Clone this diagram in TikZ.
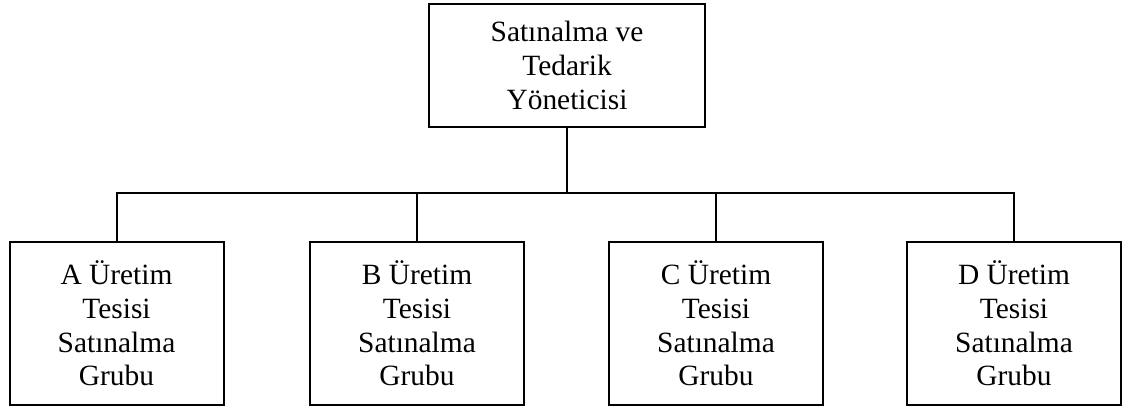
\documentclass[tikz,border=0pt]{standalone}
\usepackage{fontspec}
\setmainfont{Liberation Serif}
\begin{document}
\begin{tikzpicture}[x=0.5pt,y=0.5pt,
		box/.style={draw,line width=1pt,inner sep=0pt,align=center,font=\fontsize{14.7}{16.85}\selectfont},
		unit/.style={box,minimum width=107pt,minimum height=81.5pt}]
		\useasboundingbox (0,0) rectangle (1139,412);
		\node[box,minimum width=138pt,minimum height=61.5pt] (mgr) at (567,346.5) {Satınalma ve\\Tedarik\\Yöneticisi};
		\node[unit] (ga) at (116.5,88.5) {A Üretim\\Tesisi\\Satınalma\\Grubu};
		\node[unit] (gb) at (417,88.5) {B Üretim\\Tesisi\\Satınalma\\Grubu};
		\node[unit] (gc) at (716,88.5) {C Üretim\\Tesisi\\Satınalma\\Grubu};
		\node[unit] (gd) at (1014,88.5) {D Üretim\\Tesisi\\Satınalma\\Grubu};
		\coordinate (bus) at (567,219);
		\draw[line width=1pt] (mgr.south) -- (bus);
		\draw[line width=1pt] (bus) -| (ga.north);
		\draw[line width=1pt] (bus) -| (gb.north);
		\draw[line width=1pt] (bus) -| (gc.north);
		\draw[line width=1pt] (bus) -| (gd.north);
	\end{tikzpicture}
\end{document}
